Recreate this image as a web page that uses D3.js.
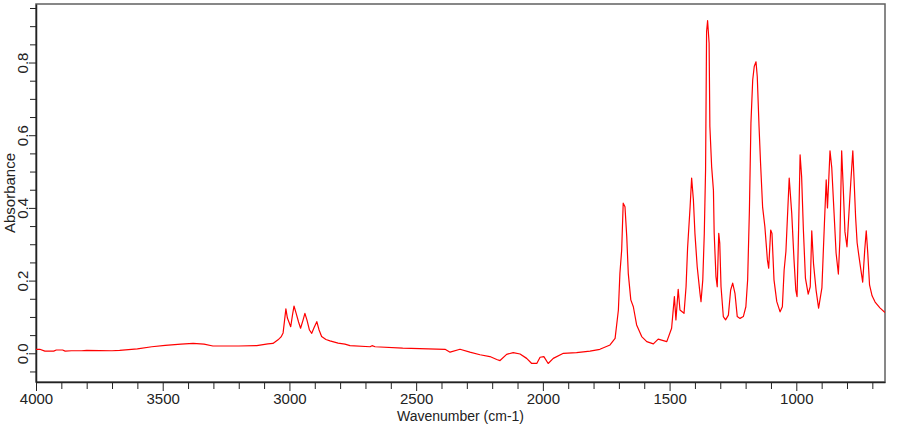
<!DOCTYPE html>
<html>
<head>
<meta charset="utf-8">
<script src="https://cdn.jsdelivr.net/npm/d3@7"></script>
<style>
  body { margin: 0; background: #fff; }
  svg { display: block; }
  text { font-family: "Liberation Sans", Arial, sans-serif; fill: #222; }
</style>
</head>
<body>
<div id="chart_area"></div>
<script>
var width = 910
var height = 425
var margin = {left: 36, top: 4, right: 25, bottom: 43}

// Spectrum: [wavenumber cm-1, absorbance]
var spectrum = [
  [4000,0.011],[3985,0.011],[3965,0.006],[3930,0.006],[3920,0.009],[3895,0.009],[3885,0.006],
  [3860,0.007],[3820,0.007],[3800,0.008],[3700,0.007],[3670,0.008],[3600,0.012],[3543,0.018],
  [3490,0.022],[3428,0.025],[3380,0.027],[3337,0.025],[3302,0.020],[3200,0.020],[3129,0.021],
  [3085,0.026],[3065,0.027],[3045,0.037],[3033,0.045],[3025,0.056],[3019,0.092],[3014,0.122],
  [3008,0.097],[2995,0.073],[2988,0.105],[2982,0.130],[2974,0.111],[2964,0.086],[2956,0.069],
  [2946,0.092],[2939,0.110],[2931,0.092],[2921,0.064],[2912,0.055],[2903,0.070],[2892,0.087],
  [2883,0.064],[2873,0.046],[2856,0.038],[2840,0.034],[2808,0.028],[2781,0.025],[2761,0.021],
  [2682,0.018],[2674,0.021],[2662,0.018],[2553,0.014],[2386,0.011],[2366,0.003],[2327,0.011],
  [2288,0.003],[2248,-0.004],[2209,-0.009],[2182,-0.017],[2169,-0.020],[2143,-0.003],[2117,0.002],
  [2090,-0.002],[2064,-0.014],[2044,-0.028],[2024,-0.028],[2011,-0.011],[1996,-0.009],[1979,-0.028],
  [1959,-0.014],[1919,0.000],[1867,0.002],[1814,0.006],[1775,0.011],[1735,0.023],[1715,0.041],
  [1702,0.119],[1696,0.220],[1689,0.284],[1683,0.413],[1676,0.403],[1669,0.321],[1663,0.220],
  [1653,0.147],[1643,0.128],[1630,0.078],[1610,0.046],[1590,0.032],[1564,0.026],[1545,0.039],
  [1511,0.032],[1492,0.069],[1481,0.156],[1475,0.092],[1466,0.176],[1459,0.119],[1443,0.110],
  [1435,0.183],[1429,0.289],[1419,0.403],[1413,0.482],[1406,0.422],[1400,0.330],[1391,0.238],
  [1380,0.165],[1376,0.142],[1369,0.202],[1363,0.330],[1358,0.504],[1354,0.885],[1350,0.915],
  [1344,0.853],[1341,0.624],[1334,0.513],[1327,0.449],[1324,0.330],[1317,0.211],[1312,0.183],
  [1306,0.330],[1302,0.303],[1297,0.183],[1288,0.101],[1279,0.092],[1268,0.105],[1259,0.174],
  [1251,0.193],[1242,0.165],[1233,0.101],[1222,0.096],[1209,0.101],[1199,0.128],[1192,0.202],
  [1185,0.394],[1179,0.633],[1172,0.752],[1166,0.789],[1159,0.802],[1154,0.761],[1147,0.624],
  [1141,0.523],[1133,0.403],[1124,0.348],[1114,0.257],[1109,0.234],[1101,0.339],[1096,0.330],
  [1088,0.202],[1077,0.142],[1064,0.114],[1055,0.128],[1048,0.229],[1041,0.280],[1028,0.482],
  [1018,0.385],[1009,0.257],[1002,0.174],[997,0.156],[991,0.339],[985,0.546],[979,0.486],
  [972,0.339],[964,0.207],[953,0.163],[945,0.183],[939,0.337],[932,0.246],[922,0.174],
  [912,0.124],[899,0.180],[889,0.358],[882,0.477],[877,0.400],[872,0.477],[867,0.557],
  [860,0.510],[851,0.386],[843,0.276],[834,0.218],[828,0.312],[821,0.557],[815,0.458],
  [808,0.334],[800,0.293],[792,0.389],[785,0.471],[777,0.557],[772,0.477],[766,0.375],
  [760,0.304],[753,0.268],[745,0.229],[738,0.196],[730,0.284],[724,0.337],[718,0.276],
  [711,0.188],[701,0.158],[689,0.141],[670,0.125],[650,0.112]
]

var xDomain = [4000, 650]
var yDomain = [-0.079, 0.961]
var xLabelTicks = [4000, 3500, 3000, 2500, 2000, 1500, 1000]
var yLabelTicks = [0.0, 0.2, 0.4, 0.6, 0.8]
var xTitle = "Wavenumber (cm-1)"
var yTitle = "Absorbance"

var plotW = width - margin.left - margin.right
var plotH = height - margin.top - margin.bottom

var svg = d3.select("#chart_area")
  .append("svg")
  .attr("width", width)
  .attr("height", height)

var x = d3.scaleLinear().domain(xDomain).range([margin.left, margin.left + plotW])
var y = d3.scaleLinear().domain(yDomain).range([margin.top + plotH, margin.top])

// minor ticks every 100 cm-1 and every 0.05 absorbance
var xTicks = d3.range(40, 6, -1).map(function (d) { return d * 100 })
var yTicks = d3.range(-1, 20).map(function (d) { return +(d * 0.05).toFixed(2) })

function isXMajor (d) { return xLabelTicks.indexOf(d) >= 0 }
function isYMajor (d) { return yLabelTicks.some(function (v) { return Math.abs(v - d) < 1e-9 }) }

svg.append("defs").append("clipPath")
  .attr("id", "plotclip")
  .append("rect")
  .attr("x", margin.left)
  .attr("y", margin.top)
  .attr("width", plotW)
  .attr("height", plotH)

// frame
svg.append("rect")
  .attr("x", margin.left)
  .attr("y", margin.top)
  .attr("width", plotW)
  .attr("height", plotH)
  .attr("fill", "none")
  .attr("stroke", "#606060")
  .attr("stroke-width", 1.5)

// x axis
var xAxis = svg.append("g")
  .attr("transform", "translate(0," + (margin.top + plotH) + ")")
  .call(d3.axisBottom(x)
    .tickValues(xTicks)
    .tickSizeOuter(0)
    .tickSizeInner(7)
    .tickFormat(function (d) { return isXMajor(d) ? d : "" }))
xAxis.selectAll(".tick line")
  .attr("y2", function (d) { return isXMajor(d) ? 9 : 7 })
  .attr("stroke", "#222")
xAxis.select(".domain").attr("stroke", "#222").attr("stroke-width", 1.5)
xAxis.selectAll("text")
  .attr("y", 22)
  .attr("dy", 0)
  .style("font-size", "15px")
  .style("font-family", "'Liberation Sans', Arial, sans-serif")
  .attr("fill", "#222")

// y axis
var yAxis = svg.append("g")
  .attr("transform", "translate(" + margin.left + ",0)")
  .call(d3.axisLeft(y)
    .tickValues(yTicks)
    .tickSizeOuter(0)
    .tickSizeInner(6)
    .tickFormat(function (d) { return isYMajor(d) ? d3.format(".1f")(d) : "" }))
yAxis.selectAll(".tick line")
  .attr("x2", function (d) { return isYMajor(d) ? -7 : -6 })
  .attr("stroke", "#222")
yAxis.select(".domain").attr("stroke", "#222").attr("stroke-width", 1.5)
yAxis.selectAll("text")
  .attr("transform", "rotate(-90)")
  .attr("x", 0)
  .attr("y", -8)
  .attr("dy", 0)
  .attr("text-anchor", "middle")
  .style("font-size", "15px")
  .style("font-family", "'Liberation Sans', Arial, sans-serif")
  .attr("fill", "#222")

// spectrum
var line = d3.line()
  .x(function (d) { return x(d[0]) })
  .y(function (d) { return y(d[1]) })

svg.append("path")
  .datum(spectrum)
  .attr("clip-path", "url(#plotclip)")
  .attr("d", line)
  .attr("fill", "none")
  .attr("stroke", "#ff0000")
  .attr("stroke-width", 1.2)
  .attr("stroke-linejoin", "round")

// axis titles
svg.append("text")
  .attr("x", margin.left + plotW / 2)
  .attr("y", 421)
  .attr("text-anchor", "middle")
  .style("font-size", "14px")
  .text(xTitle)

svg.append("text")
  .attr("transform", "translate(15," + (margin.top + plotH / 2) + ") rotate(-90)")
  .attr("text-anchor", "middle")
  .style("font-size", "15px")
  .text(yTitle)
</script>
</body>
</html>
